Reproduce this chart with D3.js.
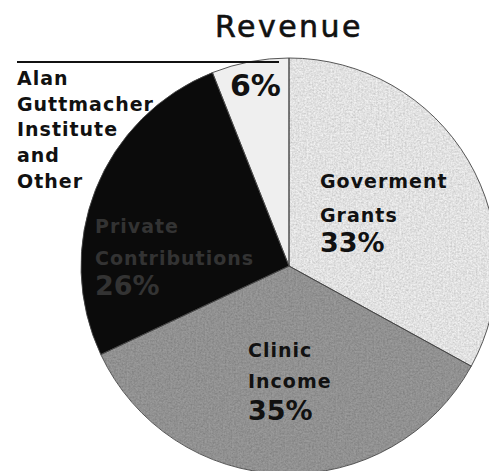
<!DOCTYPE html>
<html lang="en">
<head>
  <meta charset="UTF-8">
  <script src="https://d3js.org/d3.v7.min.js"></script>
  <title>Revenue</title>
  <style>
    body { margin: 0; background: #fff; }
    text { font-family: "DejaVu Sans", sans-serif; }
  </style>
</head>
<body>
  <div id="chart"></div>
  <script>
    // data
    const categories = ["Goverment Grants", "Clinic Income", "Private Contributions", "Alan Guttmacher Institute and Other"];
    const shares = [33, 35, 26, 6];
    const fills = ["#f2f2f2", "#9c9c9c", "#0b0b0b", "#efefef"];

    const width = 489;
    const height = 471;
    const cx = 289, cy = 266, radius = 208;

    const svg = d3.select("#chart")
      .append("svg")
      .attr("width", width)
      .attr("height", height);

    // grain to mimic the printed texture
    const defs = svg.append("defs");
    const f = defs.append("filter").attr("id", "grain")
      .attr("x", "0%").attr("y", "0%").attr("width", "100%").attr("height", "100%");
    f.append("feTurbulence").attr("type", "fractalNoise").attr("baseFrequency", 0.55)
      .attr("numOctaves", 3).attr("seed", 3).attr("result", "noise");
    f.append("feColorMatrix").attr("in", "noise").attr("type", "saturate").attr("values", 0).attr("result", "gray");
    const ct = f.append("feComponentTransfer").attr("in", "gray").attr("result", "soft");
    ["feFuncR", "feFuncG", "feFuncB"].forEach(k =>
      ct.append(k).attr("type", "linear").attr("slope", 0.7).attr("intercept", 0.5));
    ct.append("feFuncA").attr("type", "linear").attr("slope", 0).attr("intercept", 1);
    f.append("feBlend").attr("in", "SourceGraphic").attr("in2", "soft").attr("mode", "multiply").attr("result", "mix");
    f.append("feComposite").attr("in", "mix").attr("in2", "SourceGraphic").attr("operator", "in");

    const pie = d3.pie().sort(null).value(d => d);
    const arc = d3.arc().innerRadius(0).outerRadius(radius);

    const g = svg.append("g").attr("transform", `translate(${cx},${cy})`);

    g.selectAll("path")
      .data(pie(shares))
      .join("path")
      .attr("d", arc)
      .attr("fill", (d, i) => fills[i])
      .attr("filter", (d, i) => i < 2 ? "url(#grain)" : null);

    g.selectAll("path.edge")
      .data(pie(shares))
      .join("path")
      .attr("class", "edge")
      .attr("d", arc)
      .attr("fill", "none")
      .attr("stroke", "#444")
      .attr("stroke-width", 0.9);

    // title
    svg.append("text")
      .attr("x", 289).attr("y", 37)
      .attr("text-anchor", "middle")
      .attr("font-size", 30)
      .attr("letter-spacing", 2.5)
      .attr("fill", "#111")
      .attr("stroke", "#111")
      .attr("stroke-width", 0.6)
      .text("Revenue");

    // rule over the side label
    svg.append("line")
      .attr("x1", 17).attr("x2", 279)
      .attr("y1", 62).attr("y2", 62)
      .attr("stroke", "#111").attr("stroke-width", 2.2);

    // in-slice labels
    const labelSpecs = [
      { lines: ["Goverment", "Grants"], x: 320, y: 188, step: 34, pctY: 252, color: "#111" },
      { lines: ["Clinic", "Income"], x: 248, y: 357, step: 31, pctY: 420, color: "#111" },
      { lines: ["Private", "Contributions"], x: 95, y: 233, step: 32, pctY: 295, color: "#333" }
    ];

    labelSpecs.forEach((s, i) => {
      const t = svg.append("text").attr("fill", s.color);
      s.lines.forEach((ln, j) => {
        t.append("tspan").attr("x", s.x).attr("y", s.y + j * s.step)
          .attr("font-size", 19).attr("font-weight", 700)
          .attr("letter-spacing", 1).text(ln);
      });
      svg.append("text")
        .attr("x", s.x).attr("y", s.pctY)
        .attr("font-size", 27).attr("font-weight", 700)
        .attr("fill", s.color)
        .text(shares[i] + "%");
    });

    // the small slice's percentage sits above it
    svg.append("text")
      .attr("x", 230).attr("y", 96)
      .attr("font-size", 30).attr("font-weight", 700)
      .attr("fill", "#111")
      .text(shares[3] + "%");

    // side label for the small slice
    const sideLines = ["Alan", "Guttmacher", "Institute", "and", "Other"];
    const side = svg.append("text").attr("fill", "#111");
    sideLines.forEach((ln, j) => {
      side.append("tspan").attr("x", 17).attr("y", 85 + j * 25.7)
        .attr("font-size", 19).attr("font-weight", 700)
        .attr("letter-spacing", 1).text(ln);
    });
  </script>
</body>
</html>
